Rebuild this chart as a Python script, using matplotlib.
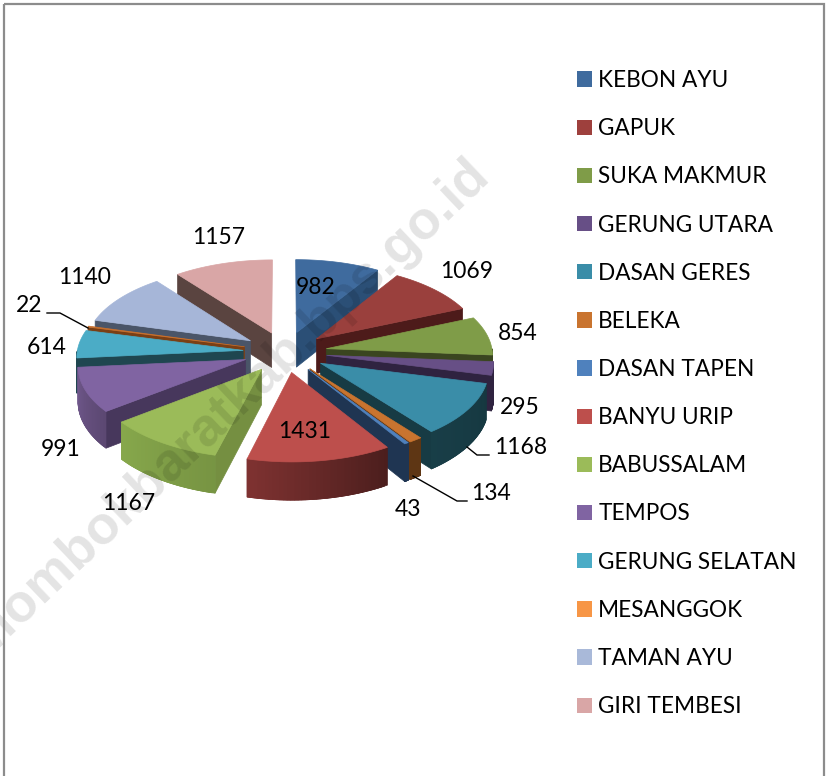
import numpy as np
import matplotlib
matplotlib.use("Agg")
import matplotlib.pyplot as plt
from matplotlib.patches import Polygon, Patch, Rectangle
from matplotlib.colors import to_rgb

categories = ["KEBON AYU", "GAPUK", "SUKA MAKMUR", "GERUNG UTARA", "DASAN GERES", "BELEKA",
              "DASAN TAPEN", "BANYU URIP", "BABUSSALAM", "TEMPOS", "GERUNG SELATAN",
              "MESANGGOK", "TAMAN AYU", "GIRI TEMBESI"]
values = [982, 1069, 854, 295, 1168, 134, 43, 1431, 1167, 991, 614, 22, 1140, 1157]

legend_colors = ["#3f6b9e", "#9e403d", "#7f9c48", "#674f86", "#3a8da8", "#c9742f", "#4f81bd",
                 "#bd4f4c", "#9bbb59", "#8064a2", "#4bacc6", "#f79646", "#a9b9d9", "#d9a6a6"]
top_colors = ["#3f6b9e", "#9a403d", "#7f9c48", "#674f86", "#3a8da8", "#c9742f", "#4f81bd",
              "#bd4f4c", "#9bbb59", "#8064a2", "#4bacc6", "#c66f2d", "#a6b6d8", "#d9a6a6"]
wall_colors = ["#2b4f76", "#4d1b1a", "#3a4520", "#2f2340", "#173b44", "#5e3614", "#1f3552",
               "#5c2322", "#758f41", "#47375c", "#1f4650", "#7a3f15", "#4a5568", "#5a4440"]
arc_colors = ["#2b4f76", "#4d1b1a", "#3a4520", "#2f2340", "#173b44", "#5e3614", "#1f3552",
              "#652827", "#7f9e47", "#66507f", "#1f4650", "#7a3f15", "#4a5568", "#5a4440"]
arc_spread = [0, 0, 0, 0, 0.1, 0, 0, 0.5, 0.12, 0.2, 0, 0, 0, 0]

# layout
CX, CY = 285.0, 352.0
R, EXPLODE, DEPTH = 166.0, 42.0, 35.0
TILT, PERSP = 0.485, 0.0675

label_pos = [(316, 287), (467, 271), (518, 333), (520, 407), (521, 447), (491, 493), (408, 509),
             (305, 431), (129, 503), (61, 449), (47, 347), (29, 306), (85, 277), (219, 238)]
leaders = [[(47, 313), (60, 313), (88, 328)],
           [(467, 447), (477, 455), (489, 455)],
           [(413, 476), (457, 501), (467, 501)]]

plt.rcParams["font.family"] = ["Lato", "DejaVu Sans"]
fig = plt.figure(figsize=(8.27, 7.76), dpi=100)
ax = fig.add_axes([0, 0, 1, 1])
ax.set_xlim(0, 827)
ax.set_ylim(776, 0)
ax.axis("off")


def project(x, y, drop=0.0):
    w = 1.0 / (1.0 + PERSP * y / R)
    return CX + w * x, CY - w * TILT * y + w * drop


def shade(col, k):
    return tuple(min(1.0, c * k) for c in to_rgb(col))


def poly(pts, color, z):
    ax.add_patch(Polygon(pts, closed=True, facecolor=color, edgecolor=color, linewidth=0.5, zorder=z))


edges = np.cumsum([0] + values) / sum(values) * 2 * np.pi
mids = (edges[:-1] + edges[1:]) / 2
order = np.argsort(-np.cos(mids))

for rank, i in enumerate(order):
    a0, a1, m = edges[i], edges[i + 1], mids[i]
    ox, oy = EXPLODE * np.sin(m), EXPLODE * np.cos(m)
    z = 2 + rank * 0.01
    apex_top, apex_bot = project(ox, oy), project(ox, oy, DEPTH)

    def rim(a, drop=0.0):
        return project(ox + R * np.sin(a), oy + R * np.cos(a), drop)

    if np.sin(a1) > 1e-6:
        poly([apex_top, rim(a1), rim(a1, DEPTH), apex_bot], wall_colors[i], z)
    if np.sin(a0) < -1e-6:
        poly([apex_top, rim(a0), rim(a0, DEPTH), apex_bot], wall_colors[i], z)

    lo, hi = max(a0, np.pi / 2), min(a1, 3 * np.pi / 2)
    if hi > lo:
        t = np.linspace(lo, hi, 41)
        for j in range(len(t) - 1):
            u, v = t[j], t[min(j + 2, len(t) - 1)]
            k = 1.0 + arc_spread[i] * (j / (len(t) - 2) - 0.5)
            poly([rim(u), rim(v), rim(v, DEPTH), rim(u, DEPTH)], shade(arc_colors[i], k), z)

    t = np.linspace(a0, a1, 60)
    poly([apex_top] + [rim(a) for a in t], top_colors[i], z + 0.001)

ax.text(465, 151, "/lombokbaratkab.bps.go.id", rotation=43.5, rotation_mode="anchor",
        ha="right", va="top", family="Liberation Sans", weight="bold", fontsize=38.5,
        color="#000000", alpha=0.11, zorder=5, clip_on=True)

for v, (x, y) in zip(values, label_pos):
    ax.text(x, y, str(v), ha="center", va="center", fontsize=16.5, color="black", zorder=7)
for line in leaders:
    xs, ys = zip(*line)
    ax.plot(xs, ys, color="black", lw=1.0, zorder=6, solid_joinstyle="miter")

ax.add_patch(Rectangle((4, 4), 820, 790, fill=False, edgecolor="#8c8c8c", lw=1.6, zorder=8, clip_on=True))

handles = [Patch(facecolor=c, edgecolor="none") for c in legend_colors]
ax.legend(handles, categories, loc="upper left", bbox_to_anchor=(577 / 827, 1 - 70 / 776),
          bbox_transform=ax.transAxes, frameon=False, fontsize=16.3, handlelength=0.66,
          handleheight=0.66, handletextpad=0.28, labelspacing=1.2, borderpad=0, borderaxespad=0,
          labelcolor="black")

fig.savefig("out.png", dpi=100)
